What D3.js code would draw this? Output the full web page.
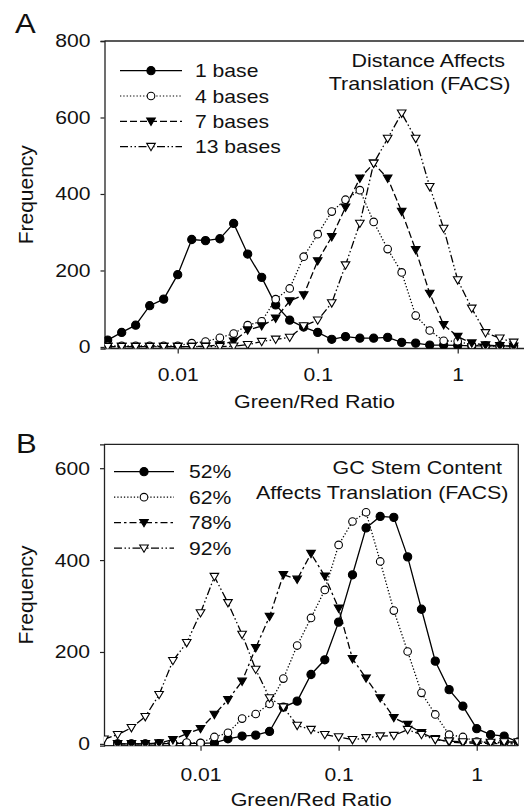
<!DOCTYPE html>
<html>
<head>
<meta charset="utf-8">
<script src="https://cdn.jsdelivr.net/npm/d3@7"></script>
<style>
  body { margin:0; background:#fff; }
  svg { font-family:"Liberation Sans", Arial, sans-serif; }
</style>
</head>
<body>
<div id="chart"></div>
<script>
// ---- data ----
// bin centres (Green/Red ratio)
var ratioA=[0.00316,0.00398,0.00501,0.00631,0.00794,0.01,0.0126,0.0158,0.0200,0.0251,
            0.0316,0.0398,0.0501,0.0631,0.0794,0.1,0.126,0.158,0.200,0.251,
            0.316,0.398,0.501,0.631,0.794,1,1.26,1.58,2.00,2.51];
var base1=[18,38,57,108,125,189,281,278,283,323,243,182,110,70,52,38,20,27,23,23,25,12,10,5,5,4,3,3,3,3];
var base4=[3,3,3,3,3,3,10,14,24,35,57,67,125,153,236,295,354,385,410,327,256,195,82,43,16,15,5,3,2,2];
var base7=[1,1,1,1,1,1,1,2,5,15,44,55,75,120,136,225,288,365,441,480,441,354,254,140,58,27,10,5,3,2];
var base13=[1,1,1,1,1,1,1,1,1,2,6,14,20,25,55,70,115,214,323,480,545,611,545,419,310,175,101,37,23,12];

var ratioB=[0.002,0.00251,0.00316,0.00398,0.00501,0.00631,0.00794,0.01,0.0126,0.0158,0.0200,
            0.0251,0.0316,0.0398,0.0501,0.0631,0.0794,0.1,0.126,0.158,0.200,
            0.251,0.316,0.398,0.501,0.631,0.794,1,1.26,1.58,2.00];
var gc52=[null,0,0,0,0,1,1,1,2,11,17,19,27,80,93,151,183,265,368,470,495,493,407,293,180,118,82,33,20,17,4];
var gc62=[null,0,0,0,1,2,3,2,15,24,55,65,87,142,214,274,335,433,484,504,397,290,201,111,64,20,15,5,3,2,2];
var gc78=[null,0,0,0,2,9,22,33,64,96,136,209,277,368,358,414,365,295,185,143,100,57,42,24,11,4,2,1,1,0,0];
var gc92=[10,20,35,59,107,181,220,285,364,307,238,162,100,80,40,31,20,15,9,13,17,18,31,20,9,6,4,4,3,4,4];

var xTicks=[0.01,0.1,1];
var yTicksA=[0,200,400,600,800];
var yTicksB=[0,200,400,600];

var W=524, H=809, SX=1.13, fs=18.7;

var svg=d3.select("#chart").append("svg").attr("width",W).attr("height",H);

//marker shapes
var triDown=function(s) {return "M"+(-s)+","+(-s*0.75)+"L"+s+","+(-s*0.75)+"L0,"+(s*0.95)+"Z";};
var styles={
  filledCircle:{shape:"circle", fill:"#000"},
  openCircle:{shape:"circle", fill:"#fff"},
  filledTri:{shape:"tri", fill:"#000"},
  openTri:{shape:"tri", fill:"#fff"}
};

function drawMarker(g, x, y, kind) {
  var st=styles[kind];
  if (st.shape=="circle") {
    g.append("circle").attr("cx",x).attr("cy",y)
     .attr("r", st.fill=="#000" ? 4.1 : 3.8)
     .style("fill",st.fill).style("stroke","#000").style("stroke-width",1.1);
  } else {
    g.append("path").attr("transform","translate("+x+","+y+")")
     .attr("d", triDown(4.3))
     .style("fill",st.fill).style("stroke","#000").style("stroke-width",1.1);
  }
}

function txt(g, x, y, s, anchor, size) {
  return g.append("text")
          .attr("transform","translate("+x+","+y+") scale("+SX+",1)")
          .attr("text-anchor",anchor)
          .style("font-size",(size||fs)+"px")
          .style("fill","#111")
          .text(s);
}

function panel(o) {
  var g=svg.append("g");
  var xScale=d3.scaleLog().domain(o.xDomain).range([o.left,o.right]);
  var yScale=d3.scaleLinear().domain(o.yDomain).range([o.bottom,o.top]);

  //clip
  g.append("clipPath").attr("id","clip"+o.id)
   .append("rect").attr("x",o.left).attr("y",o.top-10)
   .attr("width",o.right-o.left).attr("height",o.bottom-o.top+10);

  //frame
  g.append("line").attr("x1",o.left).attr("x2",o.right).attr("y1",o.top).attr("y2",o.top)
   .style("stroke","#222").style("stroke-width",1.3);
  if (o.rightFrame) {
    g.append("line").attr("x1",o.right).attr("x2",o.right).attr("y1",o.top).attr("y2",o.bottom)
     .style("stroke","#222").style("stroke-width",1.3);
  }

  //axes
  var xAxis=d3.axisBottom(xScale).tickValues(xTicks).tickFormat(d3.format("")).tickSize(5).tickPadding(o.xPad);
  var gx=g.append("g").attr("transform","translate(0,"+o.bottom+")").call(xAxis);
  var yAxis=d3.axisLeft(yScale).tickValues(o.yTicks).tickSize(4).tickPadding(10);
  var gy=g.append("g").attr("transform","translate("+o.left+",0)").call(yAxis);
  [gx,gy].forEach(function(a) {
    a.select(".domain").style("stroke","#222").style("stroke-width",1.3);
    a.selectAll(".tick line").style("stroke","#222").style("stroke-width",1.2);
    a.selectAll(".tick text").style("font-size",fs+"px").style("fill","#111")
     .attr("font-family","Liberation Sans, Arial, sans-serif")
     .attr("transform","scale("+SX+",1)");
  });
  gy.selectAll(".tick text").attr("x",-12.5);
  gx.select(".domain").attr("d","M"+o.left+",0H"+o.right);

  //series
  var plot=g.append("g").attr("clip-path","url(#clip"+o.id+")");
  o.series.forEach(function(s) {
    var pts=o.ratio.map(function(r,i) {return {x:r, y:s.values[i]};})
                   .filter(function(d) {return d.y!=null;});
    var line=d3.line().x(function(d) {return xScale(d.x);}).y(function(d) {return yScale(d.y);});
    plot.append("path").datum(pts).attr("d",line)
        .style("fill","none").style("stroke","#000").style("stroke-width",1.3)
        .style("stroke-dasharray",s.dash);
    pts.forEach(function(d) {drawMarker(plot, xScale(d.x), yScale(d.y), s.marker);});
  });

  //legend
  o.series.forEach(function(s,i) {
    var y=o.legY+i*o.legStep;
    g.append("line").attr("x1",o.legX1).attr("x2",o.legX2).attr("y1",y).attr("y2",y)
     .style("stroke","#000").style("stroke-width",1.2).style("stroke-dasharray",s.dash);
    drawMarker(g,(o.legX1+o.legX2)/2,y,s.marker);
    txt(g,o.legText,y+6.5,s.name,"start");
  });

  //titles
  o.title.forEach(function(t) {txt(g,t.x,t.y,t.s,"end",19);});
  txt(g,o.letterX,o.letterY,o.letter,"start",27.5);
  txt(g,(o.left+o.right)/2,o.xLabY,"Green/Red Ratio","middle",19);
  g.append("text")
   .attr("transform","translate(33,"+((o.top+o.bottom)/2)+") rotate(-90)")
   .attr("text-anchor","middle").style("font-size","21px").style("fill","#111")
   .text("Frequency");
}

panel({
  id:"A", left:104.5, right:524.5, top:41, bottom:348.5,
  xDomain:[0.003,3], yDomain:[-4,800], yTicks:yTicksA, xPad:14, rightFrame:false,
  ratio:ratioA,
  series:[
    {name:"1 base", values:base1, marker:"filledCircle", dash:null},
    {name:"4 bases", values:base4, marker:"openCircle", dash:"1.3,2"},
    {name:"7 bases", values:base7, marker:"filledTri", dash:"7,3"},
    {name:"13 bases", values:base13, marker:"openTri", dash:"8,2.5,1.5,2.5,1.5,2.5"}
  ],
  legY:70.7, legStep:25.3, legX1:120, legX2:182, legText:195,
  title:[{x:505,y:66.5,s:"Distance Affects"},{x:510.5,y:89.5,s:"Translation (FACS)"}],
  letter:"A", letterX:15, letterY:33, xLabY:408
});

panel({
  id:"B", left:104, right:518.3, top:444.3, bottom:745.7,
  xDomain:[0.002,2], yDomain:[-4,652], yTicks:yTicksB, xPad:17, rightFrame:true,
  ratio:ratioB,
  series:[
    {name:"52%", values:gc52, marker:"filledCircle", dash:null},
    {name:"62%", values:gc62, marker:"openCircle", dash:"1.3,2"},
    {name:"78%", values:gc78, marker:"filledTri", dash:"7,3,2.5,3"},
    {name:"92%", values:gc92, marker:"openTri", dash:"8,2.5,1.5,2.5,1.5,2.5"}
  ],
  legY:471.7, legStep:25.5, legX1:114, legX2:174, legText:189,
  title:[{x:502,y:474,s:"GC Stem Content"},{x:508.5,y:499,s:"Affects Translation (FACS)"}],
  letter:"B", letterX:16, letterY:453, xLabY:806
});
</script>
</body>
</html>
